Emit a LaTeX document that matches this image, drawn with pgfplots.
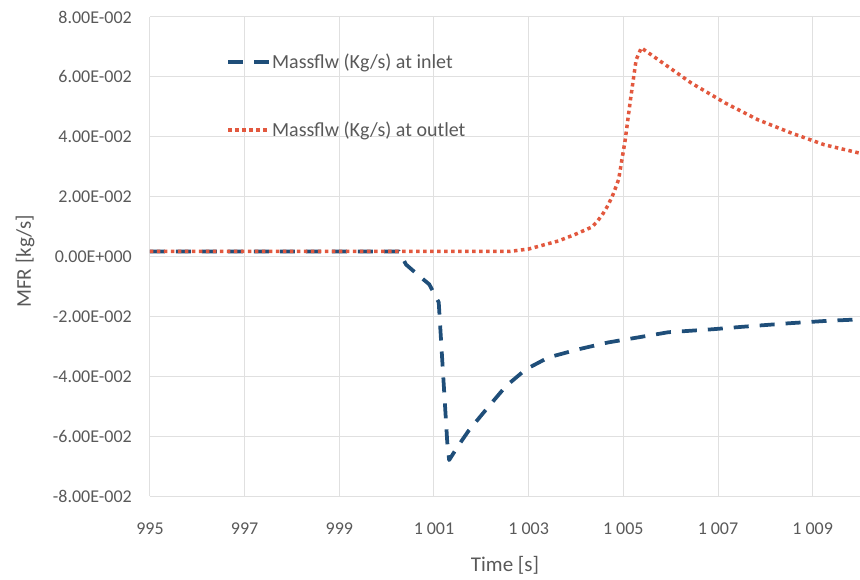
\documentclass[border=0pt]{standalone}
\usepackage{pgfplots}
\pgfplotsset{compat=1.18}
\usepackage{fontspec}
\setmainfont{Carlito}
\definecolor{txt}{HTML}{595959}
\definecolor{gridc}{HTML}{E0E0E0}
\definecolor{inlet}{HTML}{1F4E79}
\definecolor{outlet}{HTML}{E2583E}
\begin{document}
\begin{tikzpicture}
\begin{axis}[
  name=ax,
  scale only axis,
  width=710pt, height=479pt,
  xmin=995, xmax=1010,
  ymin=-0.08, ymax=0.08,
  scaled y ticks=false,
  scaled x ticks=false,
  xtick={995,997,...,1009},
  xticklabels={995,997,999,{1\hspace{0.22em}001},{1\hspace{0.22em}003},{1\hspace{0.22em}005},{1\hspace{0.22em}007},{1\hspace{0.22em}009}},
  ytick={-0.08,-0.06,...,0.081},
  yticklabels={-8.00E-002,-6.00E-002,-4.00E-002,-2.00E-002,0.00E+000,2.00E-002,4.00E-002,6.00E-002,8.00E-002},
  axis line style={draw=none},
  major tick length=0pt,
  grid=major,
  grid style={gridc, line width=1pt},
  tick label style={font=\fontsize{18}{21}\selectfont, text=txt, inner sep=0pt},
  yticklabel style={xshift=-18pt},
  xticklabel style={yshift=-27pt},
  label style={font=\fontsize{21}{24}\selectfont, text=txt},
  xlabel={Time [s]},
  ylabel={MFR [kg/s]},
  xlabel style={at={(axis description cs:0.5,-0.144)}, anchor=center},
  ylabel style={at={(axis description cs:-0.176,0.49)}, anchor=center},
  legend cell align=left,
  legend style={at={(axis description cs:0.103,0.93)}, anchor=north west, draw=none, fill=none,
    font=\fontsize{20}{23}\selectfont, text=txt, row sep=50pt,
    nodes={inner sep=1pt}},
  legend image code/.code={\draw[#1] plot coordinates {(0pt,0pt) (41pt,0pt)};},
  clip=true,
]
\addplot[inlet, line width=3.75pt, dash pattern=on 15pt off 11pt, line join=round] coordinates {
(995,0.0017) (1000.26,0.0017) (1000.41,-0.0027) (1000.65,-0.006) (1000.9,-0.0093) (1001.1,-0.0153)
(1001.28,-0.062) (1001.32,-0.068) (1001.5,-0.0635) (1001.74,-0.058) (1002.16,-0.050) (1002.52,-0.0433)
(1002.94,-0.0377) (1003.42,-0.0337) (1004.05,-0.031) (1004.68,-0.0287) (1005.32,-0.027)
(1005.95,-0.0253) (1006.89,-0.0243) (1007.5,-0.0235) (1008.5,-0.0223) (1009.3,-0.0215) (1010,-0.021)
};
\addlegendentry{Massflw (Kg/s) at inlet}
\addplot[outlet, line width=3.5pt, dash pattern=on 3.5pt off 3.5pt] coordinates {
(995,0.0017) (1002.6,0.0017) (1003.0,0.0025) (1003.63,0.0052) (1004.0,0.0075) (1004.33,0.0098)
(1004.45,0.0117) (1004.57,0.0143) (1004.68,0.0172) (1004.79,0.0210) (1004.9,0.0257) (1005.04,0.039) (1005.15,0.0523) (1005.27,0.0657)
(1005.38,0.0697) (1005.74,0.0657) (1006.43,0.058) (1007.15,0.0513) (1007.84,0.0457) (1008.54,0.0413)
(1009.25,0.0373) (1010,0.0345)
};
\addlegendentry{Massflw (Kg/s) at outlet}
\end{axis}
\pgfresetboundingbox
\path[use as bounding box] ([xshift=-150pt,yshift=-83pt]ax.south west) rectangle ([yshift=17pt]ax.north east);
\end{tikzpicture}
\end{document}
